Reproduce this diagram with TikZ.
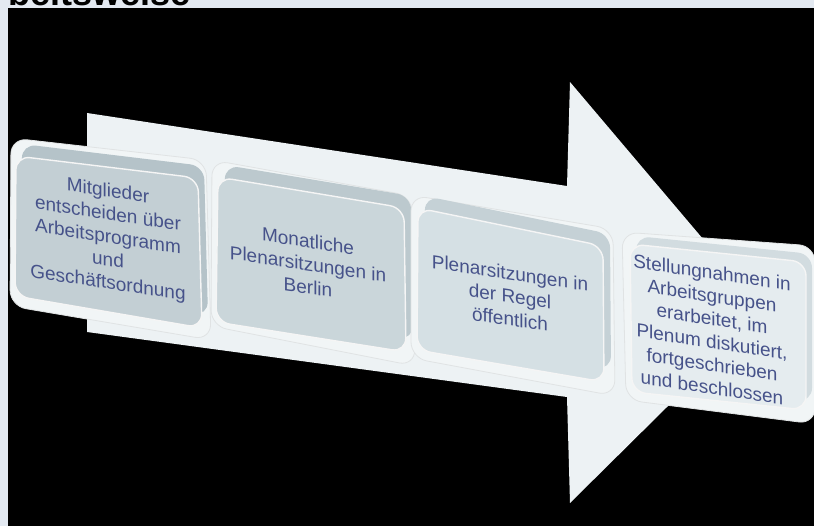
\documentclass[tikz,border=0pt]{standalone}
\usepackage{fontspec}
\setmainfont{Liberation Sans}
\definecolor{framec}{HTML}{E3E9F1}
\definecolor{arrowc}{HTML}{EDF2F4}
\definecolor{rimc}{HTML}{F1F5F6}
\definecolor{bandA}{HTML}{B5C3C9}
\definecolor{bandB}{HTML}{BCC9CE}
\definecolor{bandC}{HTML}{C5D1D6}
\definecolor{bandD}{HTML}{D2DCE0}
\definecolor{faceA}{HTML}{C3CFD4}
\definecolor{faceB}{HTML}{CAD6DA}
\definecolor{faceC}{HTML}{D5E0E4}
\definecolor{faceD}{HTML}{E5ECEF}
\definecolor{txtc}{HTML}{46528A}
\begin{document}
\begin{tikzpicture}[x=1pt,y=-1pt,
  rimshape/.style={fill=rimc, draw=rimc!85!gray, line width=0.8pt, rounded corners=16pt},
  bandshape/.style={rounded corners=14pt},
  faceshape/.style={draw=white!92!gray, line width=1.4pt, rounded corners=14pt},
  boxtext/.style={text=txtc, font=\fontsize{19}{23}\selectfont, align=center, yslant=-0.15, inner sep=0pt}]
\useasboundingbox (0,0) rectangle (814,526);
\clip (0,0) rectangle (814,526);
\fill[framec] (0,0) rectangle (814,526);
\node[anchor=base west, font=\fontsize{36}{36}\selectfont\bfseries, text=black, inner sep=0pt] (title) at (8,6) {beitsweise};
\fill[black] (8,8) rectangle (814,526);
% arrow
\fill[arrowc] (87,113) -- (567,186) -- (570,82) -- (764,311) -- (570,503) -- (567,397) -- (87,332) -- cycle;
% box 1
\draw[rimshape] (11,138) -- (206,160) -- (211,340) -- (10,306) -- cycle;
\fill[bandshape, bandA] (22,144) -- (204,166) -- (208,316) -- (21,284) -- cycle;
\draw[faceshape, fill=faceA] (16,156) -- (198,178) -- (202,328) -- (15,296) -- cycle;
% box 2
\draw[rimshape] (212,160) -- (412,196) -- (415,366) -- (211,326) -- cycle;
\fill[bandshape, bandB] (225,165) -- (411,196) -- (413,340) -- (223,310) -- cycle;
\draw[faceshape, fill=faceB] (218,177) -- (404,208) -- (406,352) -- (216,322) -- cycle;
% box 3
\draw[rimshape] (411,195) -- (613,229) -- (615,396) -- (411,358) -- cycle;
\fill[bandshape, bandC] (425,196) -- (610,234) -- (611,370) -- (424,338) -- cycle;
\draw[faceshape, fill=faceC] (418,208) -- (603,246) -- (604,382) -- (417,350) -- cycle;
% box 4
\draw[rimshape] (622,232) -- (815,246) -- (815,424) -- (626,400) -- cycle;
\fill[bandshape, bandD] (636,236) -- (812,254) -- (812,402) -- (638,384) -- cycle;
\draw[faceshape, fill=faceD] (630,244) -- (806,262) -- (806,410) -- (632,392) -- cycle;
% texts
\node[boxtext] (t1) at (108,238) {Mitglieder\\entscheiden über\\Arbeitsprogramm\\und\\Geschäftsordnung};
\node[boxtext] (t2) at (308,264) {Monatliche\\Plenarsitzungen in\\Berlin};
\node[boxtext] (t3) at (510,296) {Plenarsitzungen in\\der Regel\\öffentlich};
\node[boxtext] (t4) at (712,330) {Stellungnahmen in\\Arbeitsgruppen\\erarbeitet, im\\Plenum diskutiert,\\fortgeschrieben\\und beschlossen};
\end{tikzpicture}
\end{document}
